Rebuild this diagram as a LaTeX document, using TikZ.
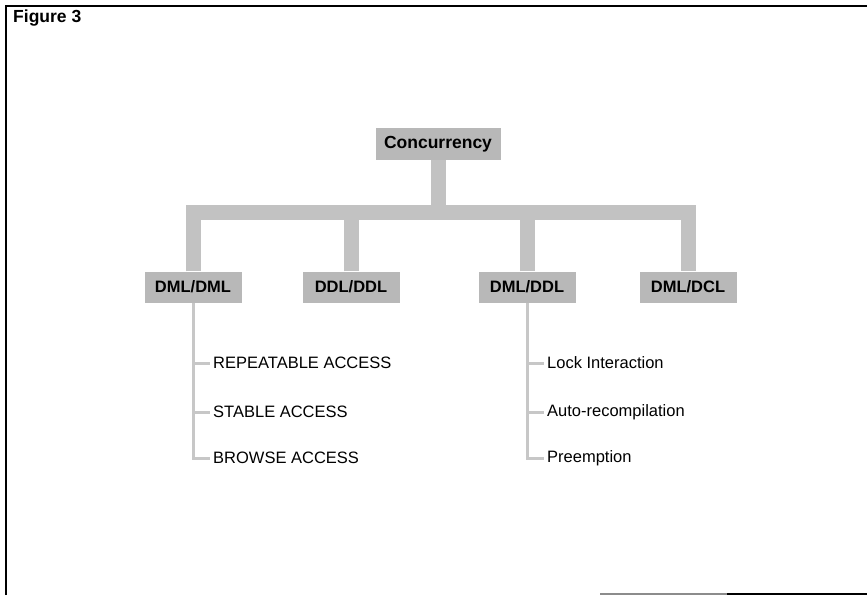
\documentclass[tikz,border=0pt]{standalone}
\usepackage{fontspec}
\setmainfont{Liberation Sans}
\begin{document}
\begin{tikzpicture}[x=1pt,y=-1pt,
  shade box/.style={fill=black!28, text=black, inner sep=0pt,
    font=\bfseries\fontsize{16.5}{19}\selectfont},
  topbox/.style={shade box, minimum width=125pt, minimum height=32pt,
    font=\bfseries\fontsize{17.5}{20}\selectfont},
  catbox/.style={shade box, minimum width=97pt, minimum height=31pt},
  item/.style={anchor=west, inner sep=0pt, font=\fontsize{16.5}{19}\selectfont},
  trunk/.style={draw=black!24, line width=15pt, line join=miter},
  twig/.style={draw=black!22, line width=3pt},
  frame/.style={draw=black, line width=2pt}]
  \useasboundingbox (0,0) rectangle (867,595);

  % outer frame (right side runs off the page)
  \coordinate (tl) at (6,6);
  \coordinate (tr) at (867,6);
  \coordinate (bl) at (6,595);
  \coordinate (bm) at (600,593.5);
  \coordinate (bk) at (727,593.5);
  \coordinate (br) at (867,593.5);
  \draw[frame] (bl) -- (tl) -- (tr);
  \draw[draw=black!45, line width=2pt] (bm) -- (bk);
  \draw[frame] (bk) -- (br);

  \node[anchor=west, inner sep=0pt, font=\bfseries\fontsize{17.5}{20}\selectfont] (title) at (13,18) {Figure 3};

  % tree connectors, drawn first so the boxes sit on top
  \coordinate (bar) at (440,212);
  \node[catbox, fill=none, text=white] (p1) at (193,287) {};
  \node[catbox, fill=none, text=white] (p2) at (351,287) {};
  \node[catbox, fill=none, text=white] (p3) at (527,287) {};
  \node[catbox, fill=none, text=white] (p4) at (688,287) {};
  \node[topbox, fill=none] (p0) at (438,144) {};
  \draw[trunk] (p0.south) -- (p0.south |- bar);
  \draw[trunk] (p1.north) |- (bar) -| (p4.north);
  \draw[trunk] (p2.north) -- (p2.north |- bar);
  \draw[trunk] (p3.north) -- (p3.north |- bar);

  % boxes
  \node[topbox] (conc) at (p0) {Concurrency};
  \node[catbox] (dmldml) at (p1) {DML/DML};
  \node[catbox] (ddlddl) at (p2) {DDL/DDL};
  \node[catbox] (dmlddl) at (p3) {DML/DDL};
  \node[catbox] (dmldcl) at (p4) {DML/DCL};

  % sub-items
  \node[item] (rep) at (213,363) {REPEATABLE ACCESS};
  \node[item] (sta) at (213,412) {STABLE ACCESS};
  \node[item] (bro) at (213,458) {BROWSE ACCESS};
  \node[item] (lck) at (547,363) {Lock Interaction};
  \node[item] (rec) at (547,412) {Auto-recompilation};
  \node[item] (pre) at (547,458) {Preemption};

  \draw[twig] (dmldml.south) -- (dmldml.south |- bro) -- ([xshift=-3pt]bro.west);
  \draw[twig] (dmldml.south |- rep) -- ([xshift=-3pt]rep.west);
  \draw[twig] (dmldml.south |- sta) -- ([xshift=-3pt]sta.west);
  \draw[twig] (dmlddl.south) -- (dmlddl.south |- pre) -- ([xshift=-3pt]pre.west);
  \draw[twig] (dmlddl.south |- lck) -- ([xshift=-3pt]lck.west);
  \draw[twig] (dmlddl.south |- rec) -- ([xshift=-3pt]rec.west);
\end{tikzpicture}
\end{document}
